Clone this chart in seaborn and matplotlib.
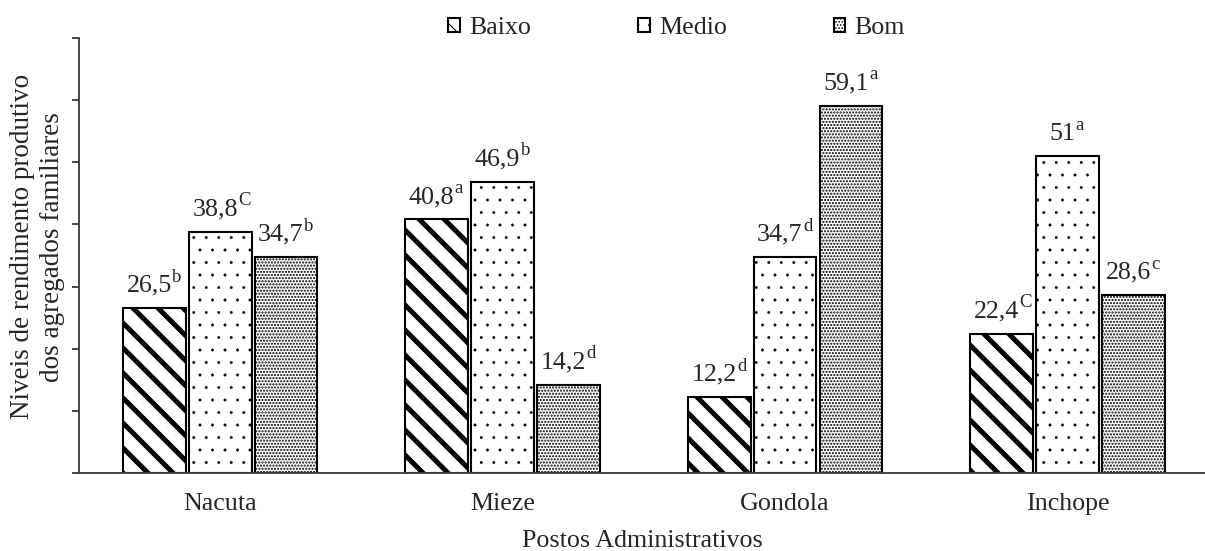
import numpy as np
import pandas as pd
import matplotlib
matplotlib.use('Agg')
import matplotlib.pyplot as plt
from matplotlib.patches import Patch
import seaborn as sns

# Dados
postos = ['Nacuta', 'Mieze', 'Gondola', 'Inchope']
niveis = ['Baixo', 'Medio', 'Bom']
baixo = [26.5, 40.8, 12.2, 22.4]
medio = [38.8, 46.9, 34.7, 51.0]
bom = [34.7, 14.2, 59.1, 28.6]
baixo_txt = ['26,5', '40,8', '12,2', '22,4']
medio_txt = ['38,8', '46,9', '34,7', '51']
bom_txt = ['34,7', '14,2', '59,1', '28,6']
baixo_sup = ['b', 'a', 'd', 'C']
medio_sup = ['C', 'b', 'd', 'a']
bom_sup = ['b', 'd', 'a', 'c']

df = pd.DataFrame({
    'posto': postos * 3,
    'nivel': [n for n in niveis for _ in postos],
    'valor': baixo + medio + bom,
})

sns.set_style('white')
plt.rcParams['font.family'] = ['Liberation Serif', 'DejaVu Serif']

DPI = 75
fig = plt.figure(figsize=(1206 / DPI, 551 / DPI), dpi=DPI)
ax = fig.add_axes([79 / 1206, 1 - 473 / 551, 1 - 79 / 1206, 435 / 551])

sns.barplot(data=df, x='posto', y='valor', hue='nivel', order=postos, hue_order=niveis,
            palette=['white'] * 3, edgecolor='black', linewidth=2.0,
            width=0.70, gap=0.05, legend=False, ax=ax)

hatches = ['\\', '.', '....']
hatch_lw = [4.8, 0.3, 1.4]
for cont, h, lw in zip(ax.containers, hatches, hatch_lw):
    for p in cont:
        p.set_hatch(h)
        if hasattr(p, 'set_hatch_linewidth'):
            p.set_hatch_linewidth(lw)

# rotulos: numero + letra sobrescrita
labels_all = [(baixo_txt, baixo_sup), (medio_txt, medio_sup), (bom_txt, bom_sup)]
for cont, (txt, sup) in zip(ax.containers, labels_all):
    for p, t, s in zip(cont, txt, sup):
        xc = p.get_x() + p.get_width() / 2
        main = ax.annotate(t, xy=(xc, p.get_height()), xytext=(-5, 11),
                           textcoords='offset points', ha='center', va='bottom', fontsize=25)
        ax.annotate(s, xy=(1, 0.5), xycoords=main, xytext=(0.5, 0),
                    textcoords='offset points', ha='left', va='bottom', fontsize=18)

ax.set_ylim(0, 70)
ax.set_yticks(np.arange(0, 71, 10))
ax.set_yticklabels([])
ax.set_xlim(-0.5, 3.49)
ax.set_xticks(range(4))
ax.set_xticklabels(postos, fontsize=25)
ax.set_xticks([0.5, 1.5, 2.5], minor=True)
ax.tick_params(axis='x', which='major', length=0, pad=19)
ax.tick_params(axis='x', which='minor', length=7, width=1.8, color='#404040', direction='out')
ax.tick_params(axis='y', which='major', length=7, width=1.8, color='#404040', direction='out', left=True)

sns.despine(ax=ax)
for s in ['left', 'bottom']:
    ax.spines[s].set_color('#404040')
    ax.spines[s].set_linewidth(1.8)

ax.set_xlabel('Postos Administrativos', fontsize=25, va='top')
ax.xaxis.set_label_coords(0.5, -0.132)
ax.set_ylabel('Niveis de rendimento produtivo\ndos agregados familiares', fontsize=26,
              linespacing=1.3)
ax.yaxis.set_label_coords(-0.012, 0.52)

handles = [Patch(facecolor='white', edgecolor='black', hatch=h, linewidth=2.0) for h in hatches]
for hd, lw in zip(handles, [2.5, 1.0, 1.4]):
    if hasattr(hd, 'set_hatch_linewidth'):
        hd.set_hatch_linewidth(lw)
fig.legend(handles, niveis, loc='center', bbox_to_anchor=(0.561, 0.949), ncol=3,
           frameon=False, fontsize=25, handlelength=0.46, handleheight=0.46,
           handletextpad=0.35, columnspacing=4.1, borderpad=0, borderaxespad=0)

fig.savefig('out.png', dpi=DPI)
